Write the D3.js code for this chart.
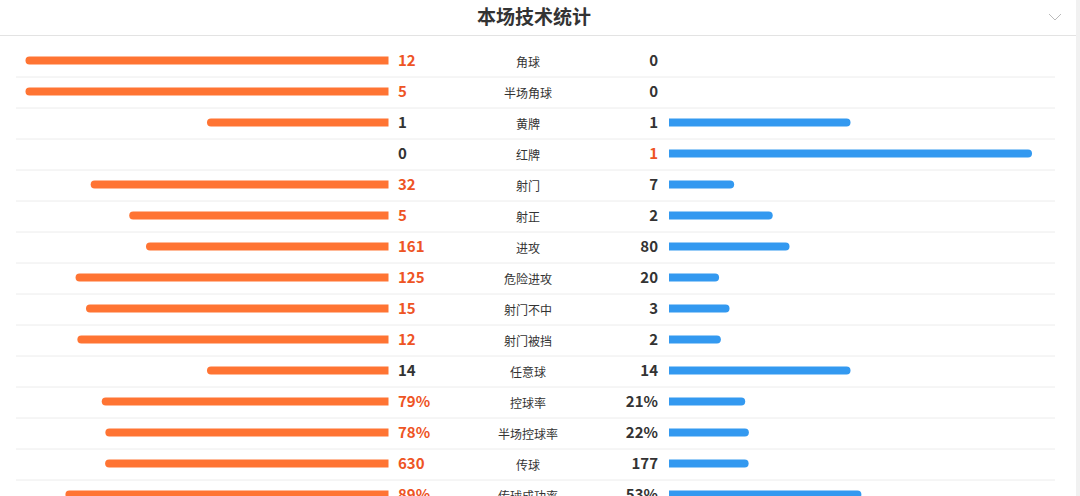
<!DOCTYPE html>
<html>
<head>
<meta charset="utf-8">
<script src="https://cdn.jsdelivr.net/npm/d3@7/dist/d3.min.js"></script>
<style>
  html, body { margin: 0; padding: 0; background: #fff; overflow: hidden; }
  svg { display: block; font-family: "Noto Sans CJK SC", "Noto Sans", sans-serif; }
</style>
</head>
<body>
<svg id="chart" width="1080" height="496"></svg>
<script>
// stats, home on the left, away on the right
var labels = ["角球", "半场角球", "黄牌", "红牌", "射门", "射正", "进攻", "危险进攻",
              "射门不中", "射门被挡", "任意球", "控球率", "半场控球率", "传球", "传球成功率"];
var homeVals = [12, 5, 1, 0, 32, 5, 161, 125, 15, 12, 14, 79, 78, 630, 89];
var awayVals = [0, 0, 1, 1, 7, 2, 80, 20, 3, 2, 14, 21, 22, 177, 53];
var pctRows = ["控球率", "半场控球率", "传球成功率"];

var orange = "#ff7433", blue = "#3399f0", hot = "#ee5424", dark = "#333";

var svg = d3.select("#chart");
var W = 1080, H = 496;

// header
svg.append("rect").attr("x", 1076).attr("y", 0).attr("width", 4).attr("height", H).attr("fill", "#f1f1f1");
svg.append("line")
  .attr("x1", 0).attr("x2", 1076).attr("y1", 35.5).attr("y2", 35.5)
  .attr("stroke", "#e3e3e3");
svg.append("text")
  .attr("x", 534).attr("y", 24)
  .attr("text-anchor", "middle")
  .attr("font-size", 19).attr("font-weight", "bold")
  .attr("fill", dark)
  .text("本场技术统计");
svg.append("path")
  .attr("d", "M1049,14 L1055,20 L1061,14")
  .attr("fill", "none").attr("stroke", "#bbb").attr("stroke-width", 1);

var rows = labels.map(function(l, i) {
  var pct = pctRows.indexOf(l) >= 0;
  var a = homeVals[i], b = awayVals[i];
  var fa, fb;
  if (pct) { fa = a / 100; fb = b / 100; }
  else { var s = a + b; fa = s ? a / s : 0; fb = s ? b / s : 0; }
  return {label: l, a: a, b: b, fa: fa, fb: fb, pct: pct};
});

var y = d3.scaleBand().domain(labels).range([45, 45 + 31 * labels.length]);
var len = d3.scaleLinear().domain([0, 1]).range([0, 363]);

var leftEnd = 388.5, rightStart = 669, barH = 8, r = 4;

var g = svg.selectAll(".row").data(rows).enter().append("g")
  .attr("class", "row")
  .attr("transform", function(d) { return "translate(0," + (y(d.label) + y.bandwidth() / 2) + ")"; });

g.append("line")
  .attr("x1", 16).attr("x2", 1055).attr("y1", 16.5).attr("y2", 16.5)
  .attr("stroke", "#ececec");

// left bars: rounded on the left only
g.filter(function(d) { return d.fa > 0; }).append("path")
  .attr("fill", orange)
  .attr("d", function(d) {
    var w = len(d.fa), x0 = leftEnd - w;
    return "M" + leftEnd + "," + (-barH / 2) + " L" + (x0 + r) + "," + (-barH / 2) +
      " A" + r + "," + r + " 0 0 0 " + (x0 + r) + "," + (barH / 2) +
      " L" + leftEnd + "," + (barH / 2) + " Z";
  });

// right bars: rounded on the right only
g.filter(function(d) { return d.fb > 0; }).append("path")
  .attr("fill", blue)
  .attr("d", function(d) {
    var w = len(d.fb), x1 = rightStart + w;
    return "M" + rightStart + "," + (-barH / 2) + " L" + (x1 - r) + "," + (-barH / 2) +
      " A" + r + "," + r + " 0 0 1 " + (x1 - r) + "," + (barH / 2) +
      " L" + rightStart + "," + (barH / 2) + " Z";
  });

function fmt(v, pct) { return pct ? v + "%" : String(v); }

g.append("text")
  .attr("x", 398).attr("y", 5.5)
  .attr("font-size", 15).attr("font-weight", "bold")
  .attr("fill", function(d) { return d.a > d.b ? hot : dark; })
  .text(function(d) { return fmt(d.a, d.pct); });

g.append("text")
  .attr("x", 658).attr("y", 5.5)
  .attr("text-anchor", "end")
  .attr("font-size", 15).attr("font-weight", "bold")
  .attr("fill", function(d) { return d.b > d.a ? hot : dark; })
  .text(function(d) { return fmt(d.b, d.pct); });

g.append("text")
  .attr("x", 528).attr("y", 6)
  .attr("text-anchor", "middle")
  .attr("font-size", 12)
  .attr("fill", dark)
  .text(function(d) { return d.label; });
</script>
</body>
</html>
